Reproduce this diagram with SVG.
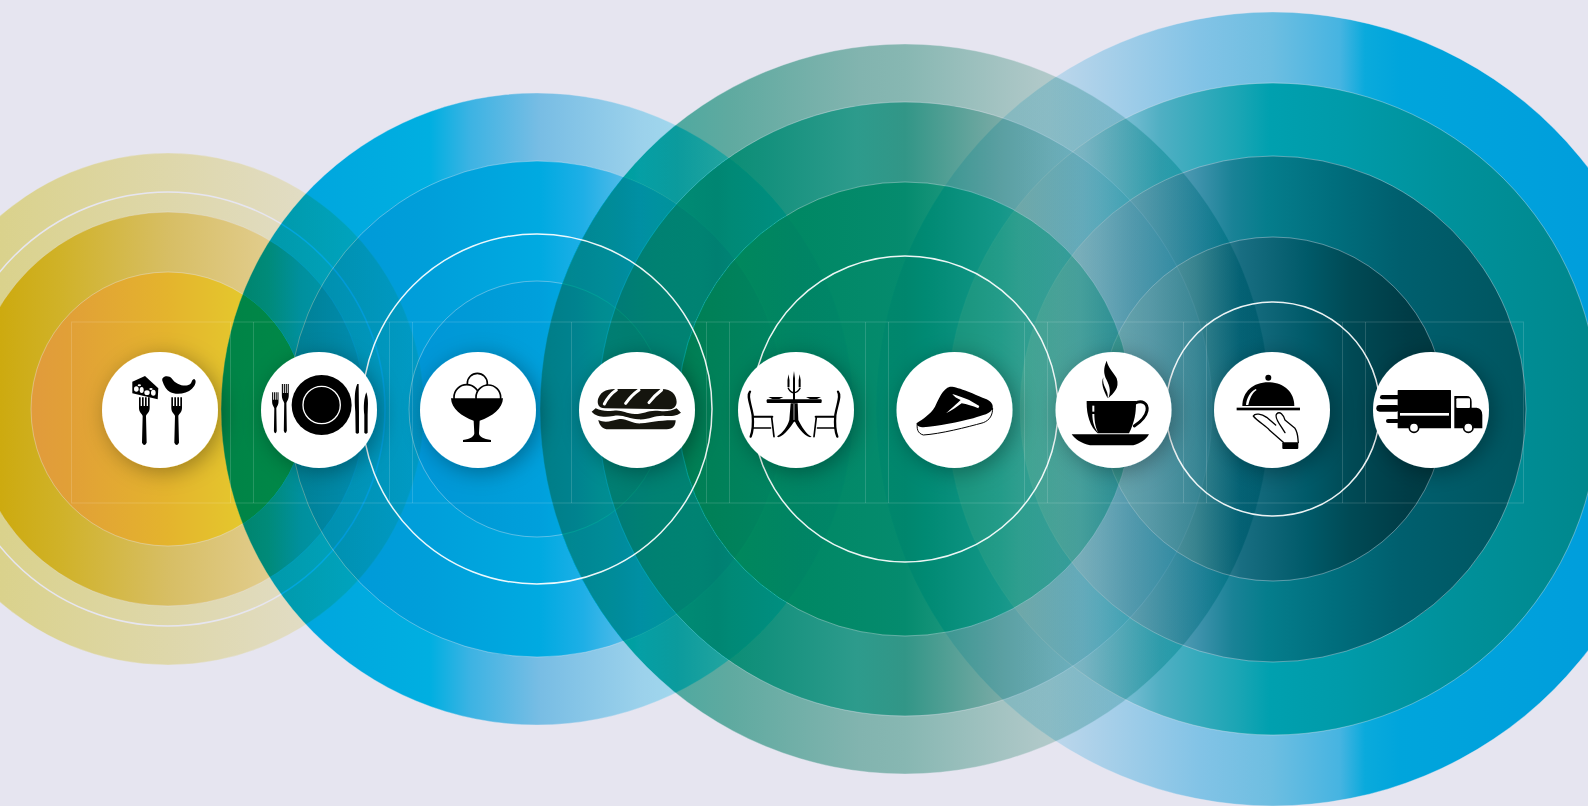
<svg xmlns="http://www.w3.org/2000/svg" width="1588" height="806" viewBox="0 0 1588 806">
<style>
.burn{filter:url(#inv)}
.fam{mix-blend-mode:plus-lighter;isolation:isolate}
.d{stroke:#000;stroke-opacity:.55;stroke-width:.7}
.ring{fill:none;stroke:#fff;stroke-width:1.5;stroke-opacity:.92}
.grid line,.grid rect{fill:none;stroke:#fff;stroke-opacity:.15;stroke-width:1}
.disc{fill:#fff;filter:url(#sh)}
.ic{fill:#000}
.ol{fill:none;stroke:#000;stroke-linecap:round;stroke-linejoin:round}
.wh{fill:#fff}
</style>
<defs>
<filter id="inv" filterUnits="userSpaceOnUse" x="0" y="0" width="1588" height="806" color-interpolation-filters="sRGB"><feColorMatrix type="matrix" values="-1 0 0 0 1 0 -1 0 0 1 0 0 -1 0 1 0 0 0 1 0"/></filter>
<filter id="sh" x="-50%" y="-50%" width="200%" height="200%"><feDropShadow dx="4" dy="4" stdDeviation="11" flood-color="#000" flood-opacity=".33"/></filter>
<clipPath id="inblue"><circle cx="537" cy="409" r="316"/></clipPath>
<linearGradient id="y1" gradientUnits="userSpaceOnUse" x1="0" x2="2000"><stop offset="0" stop-color="rgb(12,19,100)"/><stop offset="8.4%" stop-color="rgb(8,14,70)"/><stop offset="15%" stop-color="rgb(5,9,45)"/><stop offset="21.25%" stop-color="rgb(2,4,20)"/></linearGradient>
<linearGradient id="y2" gradientUnits="userSpaceOnUse" x1="0" x2="2000"><stop offset="0" stop-color="rgb(25,59,225)"/><stop offset="3%" stop-color="rgb(22,51,200)"/><stop offset="8.4%" stop-color="rgb(15,39,140)"/><stop offset="13.4%" stop-color="rgb(5,25,100)"/><stop offset="15%" stop-color="rgb(5,22,65)"/><stop offset="18.25%" stop-color="rgb(2,14,40)"/></linearGradient>
<linearGradient id="y3" gradientUnits="userSpaceOnUse" x1="0" x2="2000"><stop offset="1.6%" stop-color="rgb(5,74,180)"/><stop offset="3.5%" stop-color="rgb(5,69,185)"/><stop offset="8.4%" stop-color="rgb(2,49,195)"/><stop offset="12.25%" stop-color="rgb(2,29,195)"/></linearGradient>
<linearGradient id="b1" gradientUnits="userSpaceOnUse" x1="0" x2="2000"><stop offset="11.05%" stop-color="rgb(230,69,20)"/><stop offset="21.5%" stop-color="rgb(230,54,15)"/><stop offset="23.5%" stop-color="rgb(170,50,13)"/><stop offset="27%" stop-color="rgb(110,40,12)"/><stop offset="32%" stop-color="rgb(75,20,5)"/><stop offset="36.5%" stop-color="rgb(60,5,0)"/><stop offset="42.65%" stop-color="rgb(30,3,0)"/></linearGradient>
<linearGradient id="b2" gradientUnits="userSpaceOnUse" x1="0" x2="2000"><stop offset="14.45%" stop-color="rgb(230,79,25)"/><stop offset="21.5%" stop-color="rgb(230,70,22)"/><stop offset="27%" stop-color="rgb(230,59,15)"/><stop offset="29.15%" stop-color="rgb(200,54,10)"/><stop offset="31%" stop-color="rgb(155,44,8)"/><stop offset="32.65%" stop-color="rgb(120,30,6)"/><stop offset="35%" stop-color="rgb(60,15,2)"/><stop offset="39.25%" stop-color="rgb(30,5,0)"/></linearGradient>
<linearGradient id="b3" gradientUnits="userSpaceOnUse" x1="0" x2="2000"><stop offset="20.45%" stop-color="rgb(230,80,25)"/><stop offset="24%" stop-color="rgb(230,74,25)"/><stop offset="27%" stop-color="rgb(230,69,20)"/><stop offset="28.75%" stop-color="rgb(230,60,15)"/><stop offset="30%" stop-color="rgb(230,48,15)"/><stop offset="33.25%" stop-color="rgb(200,30,8)"/></linearGradient>
<linearGradient id="g1" gradientUnits="userSpaceOnUse" x1="0" x2="2000"><stop offset="27%" stop-color="rgb(170,35,85)"/><stop offset="30.35%" stop-color="rgb(165,42,80)"/><stop offset="32%" stop-color="rgb(150,50,70)"/><stop offset="33.85%" stop-color="rgb(150,60,80)"/><stop offset="36.5%" stop-color="rgb(135,59,80)"/><stop offset="43%" stop-color="rgb(100,49,65)"/><stop offset="45.25%" stop-color="rgb(95,46,62)"/><stop offset="52%" stop-color="rgb(55,29,40)"/><stop offset="63.5%" stop-color="rgb(15,10,10)"/></linearGradient>
<linearGradient id="g2" gradientUnits="userSpaceOnUse" x1="0" x2="2000"><stop offset="29.9%" stop-color="rgb(230,55,110)"/><stop offset="32.65%" stop-color="rgb(225,70,120)"/><stop offset="35.85%" stop-color="rgb(220,88,125)"/><stop offset="38.35%" stop-color="rgb(210,84,115)"/><stop offset="42.85%" stop-color="rgb(185,74,100)"/><stop offset="45.25%" stop-color="rgb(180,79,105)"/><stop offset="50%" stop-color="rgb(110,59,75)"/><stop offset="55%" stop-color="rgb(60,30,35)"/><stop offset="60.6%" stop-color="rgb(20,10,10)"/></linearGradient>
<linearGradient id="g3" gradientUnits="userSpaceOnUse" x1="0" x2="2000"><stop offset="33.9%" stop-color="rgb(230,85,155)"/><stop offset="40%" stop-color="rgb(230,93,140)"/><stop offset="45.25%" stop-color="rgb(225,90,130)"/><stop offset="50%" stop-color="rgb(180,67,100)"/><stop offset="53%" stop-color="rgb(130,54,80)"/><stop offset="56.6%" stop-color="rgb(95,40,55)"/></linearGradient>
<linearGradient id="t1" gradientUnits="userSpaceOnUse" x1="0" x2="2000"><stop offset="43.8%" stop-color="rgb(5,3,0)"/><stop offset="52.5%" stop-color="rgb(40,14,5)"/><stop offset="60%" stop-color="rgb(100,34,10)"/><stop offset="63.5%" stop-color="rgb(120,39,15)"/><stop offset="67%" stop-color="rgb(160,49,15)"/><stop offset="68.25%" stop-color="rgb(220,59,20)"/><stop offset="70%" stop-color="rgb(230,64,20)"/><stop offset="83.5%" stop-color="rgb(230,74,20)"/></linearGradient>
<linearGradient id="t2" gradientUnits="userSpaceOnUse" x1="0" x2="2000"><stop offset="47.35%" stop-color="rgb(2,2,1)"/><stop offset="51%" stop-color="rgb(20,8,4)"/><stop offset="54.15%" stop-color="rgb(62,24,12)"/><stop offset="58%" stop-color="rgb(150,54,45)"/><stop offset="62%" stop-color="rgb(205,64,60)"/><stop offset="63.5%" stop-color="rgb(230,69,65)"/><stop offset="67%" stop-color="rgb(230,74,70)"/><stop offset="72.5%" stop-color="rgb(230,84,85)"/><stop offset="80%" stop-color="rgb(230,94,100)"/></linearGradient>
<linearGradient id="t3" gradientUnits="userSpaceOnUse" x1="0" x2="2000"><stop offset="51%" stop-color="rgb(3,2,1)"/><stop offset="54%" stop-color="rgb(40,20,12)"/><stop offset="56.65%" stop-color="rgb(100,52,40)"/><stop offset="60%" stop-color="rgb(170,84,70)"/><stop offset="61.65%" stop-color="rgb(205,99,90)"/><stop offset="63.35%" stop-color="rgb(225,104,100)"/><stop offset="66.65%" stop-color="rgb(230,119,115)"/><stop offset="70%" stop-color="rgb(230,134,130)"/><stop offset="76.3%" stop-color="rgb(230,144,145)"/></linearGradient>
<linearGradient id="t4" gradientUnits="userSpaceOnUse" x1="0" x2="2000"><stop offset="55.05%" stop-color="rgb(60,30,30)"/><stop offset="57.5%" stop-color="rgb(100,55,50)"/><stop offset="59.75%" stop-color="rgb(145,81,77)"/><stop offset="62%" stop-color="rgb(205,119,110)"/><stop offset="65.35%" stop-color="rgb(230,139,135)"/><stop offset="67.5%" stop-color="rgb(230,155,155)"/><stop offset="70.35%" stop-color="rgb(230,169,170)"/><stop offset="72.25%" stop-color="rgb(230,171,175)"/></linearGradient>
<path id="fork" d="M-16 0h5v26h4V0h5v26h4V0h5v26h4V0h5v32C16 46 6 50 5 56L7 136Q0 150-7 136L-5 56C-6 50-16 46-16 32Z"/>
<g id="chair" class="ol"><path d="M90 155C80 168 92 190 98 225C100 250 100 270 92 290" stroke-width="7"/><path d="M100 230H157" stroke-width="6"/><path d="M155 232C158 255 160 275 162 290" stroke-width="5"/><path d="M100 264H152" stroke-width="4"/></g>
</defs>
<g class="burn">
<rect id="background" width="1588" height="806" fill="rgb(25,26,15)"/>
<g id="yellow-family" class="fam">
<circle class="d" cx="168" cy="409" r="256" fill="url(#y1)"/>
<circle cx="168" cy="409" r="217" fill="none" stroke="#000" stroke-width="1.5"/>
<circle class="d" cx="168" cy="409" r="197" fill="url(#y2)"/>
<circle class="d" cx="168" cy="409" r="137" fill="url(#y3)"/>
<circle cx="168" cy="409" r="136.6" fill="rgb(2,29,150)" clip-path="url(#inblue)"/>
</g>
<g id="blue-family" class="fam">
<circle class="d" cx="537" cy="409" r="316" fill="url(#b1)"/>
<circle class="d" cx="537" cy="409" r="248" fill="url(#b2)"/>
<circle class="d" cx="537" cy="409" r="128" fill="url(#b3)"/>
</g>
<g id="green-family" class="fam">
<circle class="d" cx="905" cy="409" r="365" fill="url(#g1)"/>
<circle class="d" cx="905" cy="409" r="307" fill="url(#g2)"/>
<circle class="d" cx="905" cy="409" r="227" fill="url(#g3)"/>
</g>
<g id="teal-family" class="fam">
<circle class="d" cx="1273" cy="409" r="397" fill="url(#t1)"/>
<circle class="d" cx="1273" cy="409" r="326" fill="url(#t2)"/>
<circle class="d" cx="1273" cy="409" r="253" fill="url(#t3)"/>
<circle class="d" cx="1273" cy="409" r="172" fill="url(#t4)"/>
</g>
</g>
<g id="rings">
<circle class="ring" cx="537" cy="409" r="175"/>
<circle class="ring" cx="905" cy="409" r="153"/>
<circle class="ring" cx="1273" cy="409" r="107"/>
</g>
<g id="grid" class="grid">
<rect x="71.5" y="322" width="1452" height="181"/>
<line x1="230.5" y1="322" x2="230.5" y2="503"/><line x1="253.5" y1="322" x2="253.5" y2="503"/>
<line x1="389.5" y1="322" x2="389.5" y2="503"/><line x1="412.5" y1="322" x2="412.5" y2="503"/>
<line x1="571.5" y1="322" x2="571.5" y2="503"/>
<line x1="706.5" y1="322" x2="706.5" y2="503"/><line x1="729.5" y1="322" x2="729.5" y2="503"/>
<line x1="865.5" y1="322" x2="865.5" y2="503"/><line x1="888.5" y1="322" x2="888.5" y2="503"/>
<line x1="1024.5" y1="322" x2="1024.5" y2="503"/><line x1="1047.5" y1="322" x2="1047.5" y2="503"/>
<line x1="1183.5" y1="322" x2="1183.5" y2="503"/><line x1="1206.5" y1="322" x2="1206.5" y2="503"/>
<line x1="1342.5" y1="322" x2="1342.5" y2="503"/><line x1="1365.5" y1="322" x2="1365.5" y2="503"/>
</g>
<g id="node-appetizer">
<circle class="disc" cx="160" cy="410" r="58"/>
<g class="ic" transform="translate(90 340) scale(.3333)">
<use href="#fork" transform="translate(163 172)"/><use href="#fork" transform="translate(260 172)"/>
<path d="M127 125L165 108L205 145L203 178L127 160Z"/>
<g class="wh"><ellipse cx="139" cy="147" rx="7" ry="8"/><ellipse cx="155" cy="150" rx="6" ry="9"/><ellipse cx="171" cy="158" rx="8" ry="7"/><ellipse cx="190" cy="158" rx="7" ry="9"/><ellipse cx="148" cy="136" rx="5" ry="3"/><ellipse cx="183" cy="147" rx="5" ry="3"/></g>
<path d="M217 122C214 108 236 104 246 116C258 134 285 142 300 133C307 127 304 120 312 117C321 120 317 136 306 146C290 162 258 166 240 156C230 150 222 138 217 122Z"/>
</g>
</g>
<g id="node-plate">
<circle class="disc" cx="319" cy="410" r="58"/>
<g class="ic" transform="translate(90 340) scale(.3333)">
<use href="#fork" transform="translate(556 157) scale(.6 .86)"/><use href="#fork" transform="translate(586 132) scale(.65 1.03)"/>
<circle cx="695" cy="195" r="90"/><circle cx="695" cy="195" r="56" fill="none" stroke="#fff" stroke-width="4"/>
<path d="M802 132C794 150 793 175 796 215L797 278Q802 285 807 278L807 215L806 132Z"/>
<path d="M829 157C822 175 820 200 823 225L823 278Q828 285 833 278L833 225L834 190C834 175 832 165 829 157Z"/>
</g>
</g>
<g id="node-icecream">
<circle class="disc" cx="478" cy="410" r="58"/>
<g transform="translate(405 340) scale(.3333)">
<g fill="#fff" stroke="#000" stroke-width="5"><circle cx="217" cy="130" r="30"/><circle cx="185" cy="172" r="38"/><circle cx="250" cy="172" r="37"/></g>
<path class="ic" d="M138 175H294C293 205 262 230 224 242L222 280C222 290 235 297 258 300V306H174V300C197 297 207 290 208 280L206 242C170 230 139 205 138 175Z"/>
</g>
</g>
<g id="node-sandwich">
<circle class="disc" cx="637" cy="410" r="58"/>
<g transform="translate(405 340) scale(.3333)" fill="#15150e">
<path d="M600 205C580 205 575 190 580 175C590 150 610 147 640 147H770C800 147 815 165 815 185C815 200 805 208 790 208Z"/>
<path d="M634 150Q612 165 598 192M702 150Q680 165 662 190M770 150Q750 165 732 188" fill="none" stroke="#fff" stroke-width="9" stroke-linecap="round"/>
<path d="M560 215L572 205C590 212 600 215 625 212C650 208 660 220 690 222C720 222 730 208 765 213C785 215 800 212 815 205L828 218C815 228 800 228 780 228C750 225 735 240 700 238C670 237 655 222 625 228C600 232 575 232 560 215Z"/>
<path d="M580 240C600 250 620 243 640 238C665 233 680 253 710 250C740 248 760 240 812 241C812 255 805 268 785 268H610C595 268 583 258 580 240Z"/>
</g>
</g>
<g id="node-table">
<circle class="disc" cx="796" cy="410" r="58"/>
<g class="ic" transform="translate(720 340) scale(.3333)">
<rect x="140" y="178" width="165" height="11" rx="3"/>
<path d="M145 171H190L178 177H157ZM258 171H303L291 177H270Z"/>
<path d="M205.500 103L208.500 120V142H202.500V120ZM222 93L225 115V150H219V115ZM239 103L242 120V142H236V120Z"/>
<path class="ol" d="M205 145Q212 158 222 158Q232 158 240 145" stroke-width="4"/><rect x="219" y="150" width="6" height="30"/>
<path d="M212 190H233L235 240C245 260 258 282 275 290L270 292C250 285 232 260 225 245H222C212 260 195 285 175 292L171 289C188 280 202 260 208 240Z"/>
<path d="M222 192V240" stroke="#fff" stroke-width="2"/>
<use href="#chair"/><use href="#chair" transform="translate(444 0) scale(-1 1)"/>
</g>
</g>
<g id="node-steak">
<circle class="disc" cx="954.500" cy="410" r="58"/>
<g class="ic" transform="translate(720 340) scale(.3333)">
<path d="M590 250C610 235 630 225 645 200C655 180 668 145 690 140C710 138 770 165 800 178C815 185 820 195 818 205C812 222 790 225 760 235C720 245 650 260 610 262C600 262 590 258 590 250Z"/>
<path class="ol" d="M592 250C590 265 592 280 610 285C660 282 740 262 790 248C810 240 818 225 818 205" stroke-width="3"/>
<path class="wh" d="M697 162C710 165 725 172 738 176C750 180 765 190 778 198L775 205C758 198 740 192 725 190C712 200 695 212 678 220C695 205 712 190 722 180C712 175 702 170 697 162Z"/>
</g>
</g>
<g id="node-coffee">
<circle class="disc" cx="1113.500" cy="410" r="58"/>
<g class="ic" transform="translate(1035 340) scale(.3333)">
<path d="M215 62C205 85 205 100 215 120C225 140 228 155 220 175C235 160 255 145 245 115C235 95 220 85 215 62Z"/>
<path d="M205 112C197 130 205 150 218 175C222 150 200 140 205 112Z"/>
<path d="M155 183H303V190C303 215 300 245 282 280H188C165 260 155 225 155 190Z"/>
<path class="ol" d="M300 190C320 178 340 190 336 212C332 232 310 250 298 258" stroke-width="9"/>
<rect class="wh" x="172" y="197" width="6" height="18"/>
<path class="wh" d="M172 222C172 245 178 265 190 278C182 265 178 245 178 222Z"/>
<path d="M110 283H342C335 298 315 310 295 316H165C140 310 120 298 110 283Z"/>
</g>
</g>
<g id="node-cloche">
<circle class="disc" cx="1272" cy="410" r="58"/>
<g class="ic" transform="translate(1035 340) scale(.3333)">
<circle cx="700" cy="113" r="9"/>
<path d="M622 198C622 155 655 127 700 127C745 127 778 155 778 198Z"/>
<path class="wh" d="M662 147C645 155 635 175 633 195H640C645 175 650 160 665 150Z"/>
<rect x="605" y="203" width="190" height="8"/>
<path class="ol" stroke-width="4" d="M655 228C660 218 680 222 695 232L722 255M655 228C668 245 695 258 703 270L745 307M725 222C735 212 745 225 750 240L780 265C790 280 788 295 790 307M725 222C720 228 728 245 740 262L750 278"/>
<rect x="742" y="307" width="48" height="20" rx="3"/>
</g>
</g>
<g id="node-truck">
<circle class="disc" cx="1431" cy="410" r="58"/>
<g class="ic" transform="translate(1300 300) scale(.3333)">
<rect x="240" y="285" width="60" height="13" rx="6.500"/><rect x="229" y="315" width="70" height="20" rx="10"/><rect x="258" y="357" width="40" height="12" rx="6"/>
<rect x="293" y="270" width="160" height="115" rx="2"/>
<rect class="wh" x="300" y="339" width="147" height="8"/>
<path d="M463 288H500Q515 288 515 305V323H530Q547 325 547 345V385H463Z"/>
<rect class="wh" x="469" y="295" width="41" height="29" rx="3"/>
<circle cx="342" cy="383" r="14" fill="#fff" stroke="#000" stroke-width="5"/><circle cx="505" cy="383" r="14" fill="#fff" stroke="#000" stroke-width="5"/>
</g>
</g>
</svg>
